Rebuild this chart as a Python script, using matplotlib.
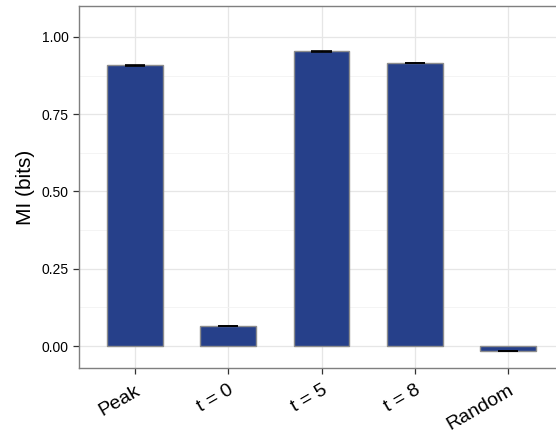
import matplotlib
matplotlib.use("Agg")
import matplotlib.pyplot as plt
from matplotlib.ticker import MultipleLocator

plt.rcParams['font.family'] = ['Liberation Sans', 'DejaVu Sans']

categories = ["Peak", "t = 0", "t = 5", "t = 8", "Random"]
mi_values = [0.908, 0.065, 0.953, 0.915, -0.016]
mi_errors = [0.001, 0.001, 0.001, 0.001, 0.001]
yticks = [0.00, 0.25, 0.50, 0.75, 1.00]
ytick_labels = ["0.00", "0.25", "0.50", "0.75", "1.00"]

fig = plt.figure(figsize=(5.56, 4.34), dpi=100)
W, H = 556, 434
left, right, top, bottom = 79, 564, 6, 368
ax = fig.add_axes([left / W, 1 - bottom / H, (right - left) / W, (bottom - top) / H])

x = list(range(len(categories)))
ax.set_axisbelow(True)
ax.yaxis.set_minor_locator(MultipleLocator(0.125))
ax.grid(True, which='major', color='#e6e6e6', linewidth=0.9)
ax.grid(True, which='minor', axis='y', color='#f3f3f3', linewidth=0.6)

ax.bar(x, mi_values, width=0.6, color='#26408a', edgecolor='#8c8c8c', linewidth=1.0, zorder=2)
for xi, v, e in zip(x, mi_values, mi_errors):
    ax.hlines([v - e, v + e], xi - 0.11, xi + 0.11, color='black', linewidth=1.2, zorder=3)
    ax.vlines(xi, v - e, v + e, color='black', linewidth=1.2, zorder=3)

ax.set_xlim(-0.6, 4.6)
ax.set_ylim(-0.071, 1.100)
ax.set_yticks(yticks)
ax.set_yticklabels(ytick_labels, fontsize=10)
ax.set_xticks(x)
ax.set_xticklabels(categories, fontsize=14, rotation=30, ha='right', rotation_mode='anchor')
ax.tick_params(axis='both', which='major', length=4, width=0.9, color='#333333', labelcolor='black')
ax.tick_params(axis='y', which='minor', length=0)
ax.tick_params(axis='x', pad=6)
ax.set_ylabel("MI (bits)", fontsize=15, labelpad=5)
for s in ax.spines.values():
    s.set_color('#7f7f7f')
    s.set_linewidth(1.0)

fig.savefig("out.png", dpi=100)
